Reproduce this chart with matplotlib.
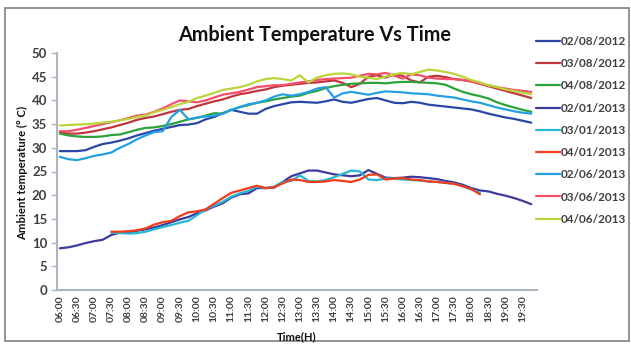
import matplotlib
matplotlib.use("Agg")
import matplotlib.pyplot as plt
import numpy as np
from matplotlib.patches import Rectangle

plt.rcParams['font.family'] = ['Lato', 'DejaVu Sans']

# readings every 15 minutes from 06:00 to 19:45
step_min = 15
tick_labels = ['06:00', '06:30', '07:00', '07:30', '08:00', '08:30', '09:00', '09:30',
               '10:00', '10:30', '11:00', '11:30', '12:00', '12:30', '13:00', '13:30',
               '14:00', '14:30', '15:00', '15:30', '16:00', '16:30', '17:00', '17:30',
               '18:00', '18:30', '19:00', '19:30']

t_0208_2012 = [29.3, 29.3, 29.3, 29.5, 30.2, 30.8, 31.1, 31.5, 32.0, 32.6, 33.1, 33.6,
               34.0, 34.4, 34.8, 34.9, 35.2, 36.0, 36.5, 37.3, 38.0, 37.6, 37.2, 37.2,
               38.2, 38.8, 39.2, 39.6, 39.7, 39.6, 39.5, 39.8, 40.2, 39.7, 39.5, 39.9,
               40.3, 40.5, 40.0, 39.5, 39.4, 39.7, 39.5, 39.1, 38.9, 38.7, 38.5, 38.3,
               38.1, 37.7, 37.2, 36.8, 36.4, 36.1, 35.7, 35.3]
t_0308_2012 = [33.2, 33.0, 33.0, 33.2, 33.5, 33.9, 34.3, 34.8, 35.3, 35.9, 36.3, 36.6,
               37.1, 37.6, 38.0, 38.2, 38.8, 39.3, 39.8, 40.2, 40.8, 41.3, 41.6, 42.0,
               42.3, 42.8, 43.1, 43.3, 43.5, 43.7, 43.8, 44.0, 44.2, 43.7, 42.8, 43.5,
               45.0, 45.3, 44.8, 45.5, 45.2, 44.2, 43.8, 45.0, 45.2, 44.9, 44.5, 44.3,
               44.0, 43.5, 43.0, 42.5, 42.0, 41.5, 41.0, 40.5]
t_0408_2012 = [33.0, 32.6, 32.4, 32.3, 32.3, 32.4, 32.7, 32.8, 33.3, 33.8, 34.2, 34.3,
               34.6, 35.0, 35.5, 36.0, 36.3, 36.8, 37.3, 37.2, 38.0, 38.6, 39.0, 39.5,
               39.8, 40.2, 40.5, 40.8, 41.0, 41.6, 42.0, 42.6, 43.0, 43.3, 43.5, 43.6,
               43.7, 43.7, 43.6, 43.8, 43.9, 43.9, 43.8, 43.7, 43.6, 43.3, 42.5, 41.8,
               41.3, 40.9, 40.4, 39.6, 39.0, 38.5, 38.0, 37.6]
t_0201_2013 = [8.8, 9.0, 9.4, 9.9, 10.3, 10.6, 11.6, 12.1, 12.2, 12.5, 12.8, 13.2,
               13.7, 14.3, 14.9, 15.4, 16.2, 16.8, 17.6, 18.3, 19.5, 20.2, 20.4, 21.5,
               21.5, 21.6, 22.8, 24.0, 24.6, 25.2, 25.2, 24.8, 24.4, 24.2, 24.0, 24.2,
               25.3, 24.5, 23.7, 23.6, 23.7, 23.9, 23.8, 23.6, 23.4, 23.0, 22.7, 22.2,
               21.5, 21.0, 20.8, 20.3, 19.9, 19.4, 18.8, 18.1]
# these two days were logged from 07:30 to 18:15 only
t_0301_2013 = [12.1, 12.0, 11.9, 12.0, 12.3, 12.8, 13.3, 13.7, 14.2, 14.6, 15.8, 17.0,
               17.8, 18.6, 19.7, 20.4, 20.9, 21.8, 21.5, 21.8, 22.8, 23.0, 24.2, 23.0,
               22.9, 23.2, 23.8, 24.5, 25.2, 25.0, 23.3, 23.2, 23.5, 23.5, 23.3, 23.2,
               23.1, 22.9, 22.8, 22.6, 22.4, 21.9, 21.2, 20.5]
t_0401_2013 = [12.3, 12.3, 12.4, 12.6, 13.0, 13.8, 14.3, 14.6, 15.6, 16.4, 16.6, 17.0,
               18.2, 19.4, 20.5, 21.0, 21.5, 22.0, 21.5, 21.7, 22.5, 23.3, 23.2, 22.8,
               22.8, 22.9, 23.2, 23.0, 22.8, 23.3, 24.3, 24.4, 23.3, 23.5, 23.6, 23.3,
               23.2, 22.9, 22.8, 22.6, 22.4, 21.9, 21.3, 20.2]
t_0206_2013 = [28.1, 27.6, 27.4, 27.8, 28.3, 28.6, 29.0, 30.0, 30.8, 31.8, 32.6, 33.3,
               33.5, 36.5, 38.0, 36.0, 36.4, 36.6, 36.8, 37.2, 38.0, 38.6, 39.2, 39.5,
               40.0, 40.8, 41.3, 41.0, 41.3, 41.8, 42.5, 42.8, 40.6, 41.5, 41.8, 41.5,
               41.2, 41.6, 41.9, 41.8, 41.7, 41.5, 41.4, 41.3, 41.0, 40.8, 40.6, 40.2,
               39.8, 39.5, 39.0, 38.5, 38.1, 37.7, 37.4, 37.2]
t_0306_2013 = [33.5, 33.5, 33.8, 34.2, 34.6, 35.0, 35.4, 35.8, 36.3, 36.8, 37.0, 37.6,
               38.3, 39.2, 40.0, 39.8, 39.6, 40.0, 40.6, 41.2, 41.5, 41.8, 42.3, 42.8,
               43.0, 43.2, 43.2, 43.5, 43.8, 44.0, 44.3, 44.5, 44.6, 44.7, 44.8, 45.2,
               45.6, 45.5, 45.8, 45.2, 44.6, 45.5, 45.3, 44.8, 44.6, 44.5, 44.5, 44.3,
               44.0, 43.5, 43.2, 42.8, 42.5, 42.2, 42.0, 41.8]
t_0406_2013 = [34.7, 34.8, 34.9, 35.0, 35.1, 35.3, 35.5, 35.8, 36.1, 36.5, 36.8, 37.5,
               38.0, 38.6, 39.2, 39.7, 40.5, 41.0, 41.6, 42.2, 42.5, 42.8, 43.3, 44.0,
               44.5, 44.7, 44.5, 44.2, 45.3, 43.8, 44.8, 45.3, 45.6, 45.7, 45.5, 45.0,
               44.8, 44.5, 45.0, 45.5, 45.8, 45.5, 46.0, 46.5, 46.3, 46.0, 45.6, 45.0,
               44.3, 43.8, 43.2, 42.8, 42.3, 42.0, 41.6, 41.3]

minutes = np.arange(len(t_0208_2012)) * step_min
short_min = minutes[6:6 + len(t_0301_2013)]

series = [
    ('02/08/2012', minutes, t_0208_2012, '#2a47a6'),
    ('03/08/2012', minutes, t_0308_2012, '#c0363c'),
    ('04/08/2012', minutes, t_0408_2012, '#2ca23a'),
    ('02/01/2013', minutes, t_0201_2013, '#3d3a9f'),
    ('03/01/2013', short_min, t_0301_2013, '#27b6d4'),
    ('04/01/2013', short_min, t_0401_2013, '#f23c1c'),
    ('02/06/2013', minutes, t_0206_2013, '#25a0e2'),
    ('03/06/2013', minutes, t_0306_2013, '#f2506c'),
    ('04/06/2013', minutes, t_0406_2013, '#bcd43a'),
]

fig = plt.figure(figsize=(6.31, 3.49), dpi=100)
ax = fig.add_axes([57 / 631, 59 / 349, 480 / 631, 237 / 349])

for name, x, y, c in series:
    ax.plot(x, y, color=c, lw=1.6, label=name, solid_capstyle='round')

ax.set_xlim(-5, 835)
ax.set_ylim(0, 50)
ax.set_yticks(np.arange(0, 51, 5))
ax.set_xticks(np.arange(len(tick_labels)) * 30)
ax.set_xticklabels(tick_labels, rotation=90, fontsize=7.5, fontweight='bold', color='#404040')
for lab in ax.get_yticklabels():
    lab.set_fontsize(9.5)
    lab.set_fontweight('bold')
    lab.set_color('#404040')
ax.tick_params(axis='x', length=0, pad=4)
ax.tick_params(axis='y', length=4, width=1, color='#a9b6c2', pad=3)

for side in ('top', 'right'):
    ax.spines[side].set_visible(False)
for side in ('left', 'bottom'):
    ax.spines[side].set_color('#a9b6c2')
    ax.spines[side].set_linewidth(1.5)

fig.text(315 / 631, 1 - 35 / 349, 'Ambient Temperature Vs Time', ha='center', va='center',
         fontsize=14.3, fontweight='bold', color='#111111')
fig.text(23 / 631, 1 - 173 / 349, 'Ambient temperature (° C)', ha='center', va='center',
         rotation=90, fontsize=8.2, fontweight='bold', color='#111111')
fig.text(297 / 631, 1 - 337 / 349, 'Time(H)', ha='center', va='center',
         fontsize=8, fontweight='bold', color='#111111')

fig.legend(loc='upper left', bbox_to_anchor=(536 / 631, 1 - 36 / 349), frameon=False,
           prop={'weight': 'bold', 'size': 8.5}, handlelength=2.0,
           handletextpad=0.1, labelspacing=0.95, borderaxespad=0, borderpad=0)
for txt in fig.legends[0].get_texts():
    txt.set_color('#404040')

# outer frame
fig.patches.append(Rectangle((5 / 631, 1 - 341 / 349), 624 / 631, 333 / 349,
                             transform=fig.transFigure, fill=False,
                             edgecolor='#7f7f7f', lw=1.2))

fig.savefig('out.png', dpi=100)
